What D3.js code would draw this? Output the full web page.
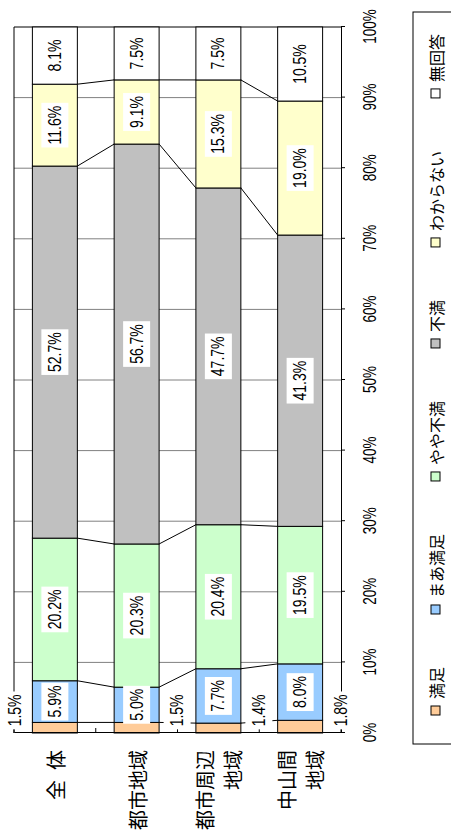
<!DOCTYPE html>
<html>
<head>
<meta charset="utf-8">
<script src="https://cdn.jsdelivr.net/npm/d3@7"></script>
<style>
body { margin: 0; background: #fff; }
svg { display: block; }
</style>
</head>
<body>
<div id="chart"></div>
<script>
// data (percent)
var categories = ["全\u2002体", "都市地域", "都市周辺\n地域", "中山間\n地域"];
var answers = ["満足", "まあ満足", "やや不満", "不満", "わからない", "無回答"];
var manzoku    = [1.5, 1.5, 1.4, 1.8];
var maaManzoku = [5.9, 5.0, 7.7, 8.0];
var yayaFuman  = [20.2, 20.3, 20.4, 19.5];
var fuman      = [52.7, 56.7, 47.7, 41.3];
var wakaranai  = [11.6, 9.1, 15.3, 19.0];
var mukaito    = [8.1, 7.5, 7.5, 10.5];
var tickValues = [0, 10, 20, 30, 40, 50, 60, 70, 80, 90, 100];

var colors = ["#FFCC99", "#99CCFF", "#CCFFCC", "#C0C0C0", "#FFFFCC", "#FFFFFF"];
var numFont = "'Liberation Sans', Arial, sans-serif";
var jpFont = "'Noto Sans CJK JP', sans-serif";

var series = [manzoku, maaManzoku, yayaFuman, fuman, wakaranai, mukaito];
var rows = categories.map(function(c, i) {
	var r = {cat: c};
	answers.forEach(function(a, k) { r[a] = series[k][i]; });
	return r;
});

var fullWidth = 451, fullHeight = 838;

var svg = d3.select("#chart").append("svg")
	.attr("width", fullWidth)
	.attr("height", fullHeight);

// the chart is drawn as a normal horizontal bar chart and turned 90deg
var g = svg.append("g").attr("transform", "translate(0," + fullHeight + ") rotate(-90)");

var x = d3.scaleLinear().domain([0, 1]).range([105, 811]);
var y = d3.scaleBand().domain(categories).range([14, 341]).paddingInner(0.45).paddingOuter(0.225);
var bw = y.bandwidth();

var stacked = d3.stack().keys(answers).offset(d3.stackOffsetExpand)(rows);

// plot background + gridlines
g.append("rect").attr("x", x(0)).attr("y", 14).attr("width", x(1) - x(0)).attr("height", 327).attr("fill", "#fff");
g.append("g").selectAll("line")
	.data(tickValues.slice(1, -1))
	.enter().append("line")
	.attr("x1", function(d) { return x(d / 100); })
	.attr("x2", function(d) { return x(d / 100); })
	.attr("y1", 14).attr("y2", 341)
	.attr("stroke", "#808080").attr("stroke-width", 1);
// top border (100%) and left border
g.append("line").attr("x1", x(1)).attr("x2", x(1)).attr("y1", 14).attr("y2", 341).attr("stroke", "#000");
g.append("line").attr("x1", x(0)).attr("x2", x(1)).attr("y1", 14).attr("y2", 14).attr("stroke", "#000");

// series lines
var slines = g.append("g");
for (var k = 0; k < stacked.length - 1; k++) {
	for (var i = 0; i < categories.length - 1; i++) {
		slines.append("line")
			.attr("x1", x(stacked[k][i][1]))
			.attr("y1", y(categories[i]) + bw)
			.attr("x2", x(stacked[k][i + 1][1]))
			.attr("y2", y(categories[i + 1]))
			.attr("stroke", "#000").attr("stroke-width", 1);
	}
}

// bars
var layer = g.selectAll("g.layer")
	.data(stacked)
	.enter().append("g")
	.attr("class", "layer")
	.attr("fill", function(d, i) { return colors[i]; });

layer.selectAll("rect")
	.data(function(d) { return d; })
	.enter().append("rect")
	.attr("x", function(d) { return x(d[0]); })
	.attr("width", function(d) { return x(d[1]) - x(d[0]); })
	.attr("y", function(d) { return y(d.data.cat); })
	.attr("height", bw)
	.attr("stroke", "#000")
	.attr("stroke-width", 1);

// value axis (right side on screen)
var xAxis = g.append("g")
	.attr("transform", "translate(0,341)")
	.call(d3.axisBottom(x)
		.tickValues(tickValues.map(function(v) { return v / 100; }))
		.tickFormat(d3.format(".0%"))
		.tickSize(4).tickSizeOuter(0));
xAxis.select(".domain").attr("stroke", "#000");
xAxis.selectAll(".tick line").attr("stroke", "#000");
xAxis.selectAll("text")
	.attr("y", 0).attr("dy", null)
	.attr("dominant-baseline", "central")
	.attr("transform", "translate(0,29) scale(1,1.3)")
	.style("font-family", numFont)
	.style("font-size", "13.5px")
	.attr("fill", "#000");

// category axis (bottom on screen)
var yAxis = g.append("g")
	.attr("transform", "translate(" + x(0) + ",0)")
	.call(d3.axisLeft(y).tickSize(0).tickSizeOuter(0).tickPadding(17));
yAxis.select(".domain").attr("stroke", "#000");
yAxis.selectAll("text").each(function(d) {
	var t = d3.select(this);
	var lines = d.split("\n");
	t.text(null).attr("dy", null).attr("dominant-baseline", "central")
		.style("font-family", jpFont).style("font-size", "20px").attr("fill", "#000");
	lines.forEach(function(l, j) {
		t.append("tspan").attr("x", -17).attr("y", (j - (lines.length - 1) / 2) * 28).text(l);
	});
});
// ticks between categories, pointing into the plot
g.append("g").selectAll("line")
	.data(d3.range(categories.length + 1))
	.enter().append("line")
	.attr("x1", x(0)).attr("x2", x(0) + 5)
	.attr("y1", function(i) { return y.range()[0] + i * y.step(); })
	.attr("y2", function(i) { return y.range()[0] + i * y.step(); })
	.attr("stroke", "#000");

// data labels with white boxes
function addLabel(lx, ly, txt) {
	var lg = g.append("g").attr("transform", "translate(" + lx + "," + ly + ")");
	var box = lg.append("rect").attr("fill", "#fff");
	var t = lg.append("text")
		.attr("text-anchor", "middle")
		.attr("dominant-baseline", "central")
		.attr("transform", "scale(1,1.25)")
		.style("font-family", numFont)
		.style("font-size", "14px")
		.attr("fill", "#000")
		.text(txt);
	var len = t.node().getComputedTextLength();
	box.attr("x", -len / 2 - 3).attr("width", len + 6).attr("y", -13.5).attr("height", 27);
}

stacked.forEach(function(s, k) {
	s.forEach(function(d, i) {
		var v = d.data[answers[k]];
		var txt = v.toFixed(1) + "%";
		if (k === 0) {
			// small 満足 values sit beside the bar
			var ly = i === 0 ? y(d.data.cat) - 17 : y(d.data.cat) + bw + 18;
			addLabel(x(0.032), ly, txt);
		} else {
			addLabel(x((d[0] + d[1]) / 2), y(d.data.cat) + bw / 2, txt);
		}
	});
});

// legend
g.append("rect")
	.attr("x", 94).attr("y", 413).attr("width", 732).attr("height", 80)
	.attr("fill", "none").attr("stroke", "#000");
var cursor = 123;
answers.forEach(function(a, k) {
	g.append("rect")
		.attr("x", cursor).attr("y", 431).attr("width", 9).attr("height", 9)
		.attr("fill", colors[k]).attr("stroke", "#000");
	var t = g.append("text")
		.attr("x", cursor + 16).attr("y", 435.5)
		.attr("dominant-baseline", "central")
		.style("font-family", jpFont).style("font-size", "16px")
		.attr("fill", "#000")
		.text(a);
	cursor = cursor + 16 + t.node().getComputedTextLength() + 53;
});
</script>
</body>
</html>
